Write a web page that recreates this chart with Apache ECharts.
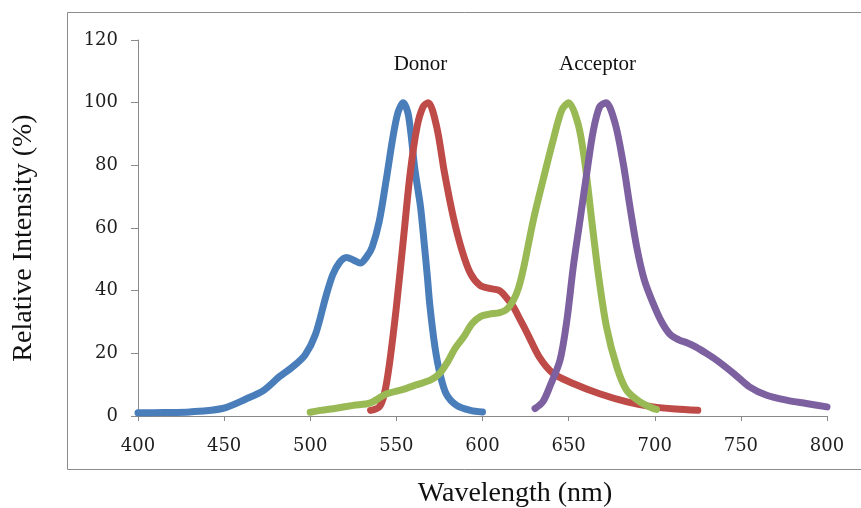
<!DOCTYPE html>
<html>
<head>
<meta charset="utf-8">
<script src="https://cdn.jsdelivr.net/npm/echarts@6/dist/echarts.min.js"></script>
<style>
  html, body { margin: 0; padding: 0; background: #ffffff; }
  #chart { width: 861px; height: 508px; }
</style>
</head>
<body>
<div id="chart"></div>
<script>
// Normalised FRET spectra: donor excitation/emission, acceptor excitation/emission
const donorExNm = [400, 415, 430, 449, 463, 473, 482, 490, 497, 503, 509, 513, 517, 521, 525, 529, 533, 536, 540, 544, 548, 551, 554, 557, 560.8, 564, 566, 568, 569.5, 572.4, 575.3, 579, 585, 593, 600];
const donorExVal = [1.0, 1.1, 1.3, 2.4, 5.5, 8.2, 12.5, 15.8, 19.5, 26, 38, 45, 49, 50.6, 49.8, 48.8, 51, 54, 62, 75, 89, 97, 100, 96, 78.5, 66.8, 56, 44.4, 35, 22, 13.5, 7, 3.4, 1.8, 1.3];

const donorEmNm = [535, 540, 543, 546, 550, 554, 558, 562, 565.5, 568.5, 573.4, 578, 583, 588, 593, 598.5, 604, 610, 615, 618, 622, 626, 633, 641, 653, 668, 684, 699, 712, 725];
const donorEmVal = [1.8, 2.9, 7, 16.7, 34.8, 56, 77.4, 92.3, 98.7, 100, 92.3, 77.4, 63.6, 53, 45.5, 41.7, 40.7, 40, 37, 34.8, 30.6, 26.4, 18.8, 13.6, 10.3, 7.1, 4.5, 2.9, 2.2, 1.8];

const acceptorExNm = [500, 506, 515, 525, 535, 544, 554, 562, 570, 575, 580, 584, 589, 594, 599, 604, 610, 614, 618, 621, 624, 629.5, 635, 641, 646, 650, 655.6, 659.5, 663.4, 667.2, 672, 678, 683.7, 691.4, 699, 701];
const acceptorExVal = [1.2, 1.8, 2.5, 3.4, 4.2, 7, 8.5, 10, 11.5, 13.5, 17.5, 21.5, 25.2, 29.5, 31.8, 32.5, 33, 34, 37, 41, 47.6, 62.5, 75, 88, 97.6, 100, 93, 80.6, 62.5, 45.5, 28.4, 15.6, 8.2, 4.5, 2.4, 2.1];

const acceptorEmNm = [630.5, 635, 639, 645, 649, 652.7, 656.6, 660.5, 664.3, 668, 671.7, 677, 681.7, 685.6, 689.5, 694, 699, 704, 709, 714, 719, 724, 730, 736, 746, 755, 765, 777, 788, 800];
const acceptorEmVal = [2.4, 4.5, 9.3, 17.8, 30.6, 47.6, 62.5, 77.4, 91, 98.7, 100, 93.4, 80.6, 66.8, 54, 43.3, 36, 30, 26, 24.3, 23.3, 22, 20, 17.8, 13.5, 9.3, 6.6, 5, 4, 2.9];

const seriesColors = ['#4A7EBB', '#BE4B48', '#98B954', '#7D60A0'];
const xTicks = { min: 400, max: 800, step: 50 };
const yTicks = { min: 0, max: 120, step: 20 };

function pairs(xs, ys) {
  return xs.map((x, i) => [x, ys[i]]);
}

function spectrum(name, xs, ys, color) {
  return {
    name: name,
    type: 'line',
    data: pairs(xs, ys),
    smooth: 0.3,
    showSymbol: false,
    symbol: 'none',
    lineStyle: { color: color, width: 7, cap: 'round', join: 'round' },
    itemStyle: { color: color },
    z: 3
  };
}

const chart = echarts.init(document.getElementById('chart'), null, { renderer: 'canvas' });

const axisGrey = '#8a8a8a';
const tickFont = { fontFamily: 'DejaVu Serif', fontSize: 18, color: '#1e1e1e' };

chart.setOption({
  backgroundColor: '#ffffff',
  animation: false,
  grid: { left: 138, right: 34, top: 40, bottom: 92, containLabel: false },
  xAxis: {
    type: 'value',
    min: xTicks.min,
    max: xTicks.max,
    interval: xTicks.step,
    axisLine: { show: true, onZero: false, lineStyle: { color: axisGrey, width: 1 } },
    axisTick: { show: true, inside: false, length: 5, lineStyle: { color: axisGrey } },
    axisLabel: Object.assign({ margin: 21 }, tickFont),
    splitLine: { show: false }
  },
  yAxis: {
    type: 'value',
    min: yTicks.min,
    max: yTicks.max,
    interval: yTicks.step,
    axisLine: { show: true, lineStyle: { color: axisGrey, width: 1 } },
    axisTick: { show: true, inside: false, length: 7, lineStyle: { color: axisGrey } },
    axisLabel: Object.assign({ margin: 20, padding: [10, 0, 0, 0] }, tickFont),
    splitLine: { show: false }
  },
  series: [
    spectrum('Donor excitation', donorExNm, donorExVal, seriesColors[0]),
    spectrum('Donor emission', donorEmNm, donorEmVal, seriesColors[1]),
    spectrum('Acceptor excitation', acceptorExNm, acceptorExVal, seriesColors[2]),
    spectrum('Acceptor emission', acceptorEmNm, acceptorEmVal, seriesColors[3])
  ],
  graphic: [
    {
      // frame around the plotting region
      type: 'rect',
      shape: { x: 67.5, y: 12.5, width: 820, height: 457 },
      style: { fill: 'none', stroke: '#8c8c8c', lineWidth: 1 },
      silent: true,
      z: 0
    },
    {
      type: 'text',
      x: 420.5, y: 64,
      style: { text: 'Donor', font: '21px "Liberation Serif"', fill: '#111', align: 'center', verticalAlign: 'middle' }
    },
    {
      type: 'text',
      x: 597.5, y: 64,
      style: { text: 'Acceptor', font: '21px "Liberation Serif"', fill: '#111', align: 'center', verticalAlign: 'middle' }
    },
    {
      type: 'text',
      x: 515, y: 494,
      style: { text: 'Wavelength (nm)', font: '28px "Liberation Serif"', fill: '#111', align: 'center', verticalAlign: 'middle' }
    },
    {
      type: 'text',
      x: 24, y: 238,
      rotation: Math.PI / 2,
      style: { text: 'Relative Intensity (%)', font: '28px "Liberation Serif"', fill: '#111', align: 'center', verticalAlign: 'middle' }
    }
  ]
});
</script>
</body>
</html>
